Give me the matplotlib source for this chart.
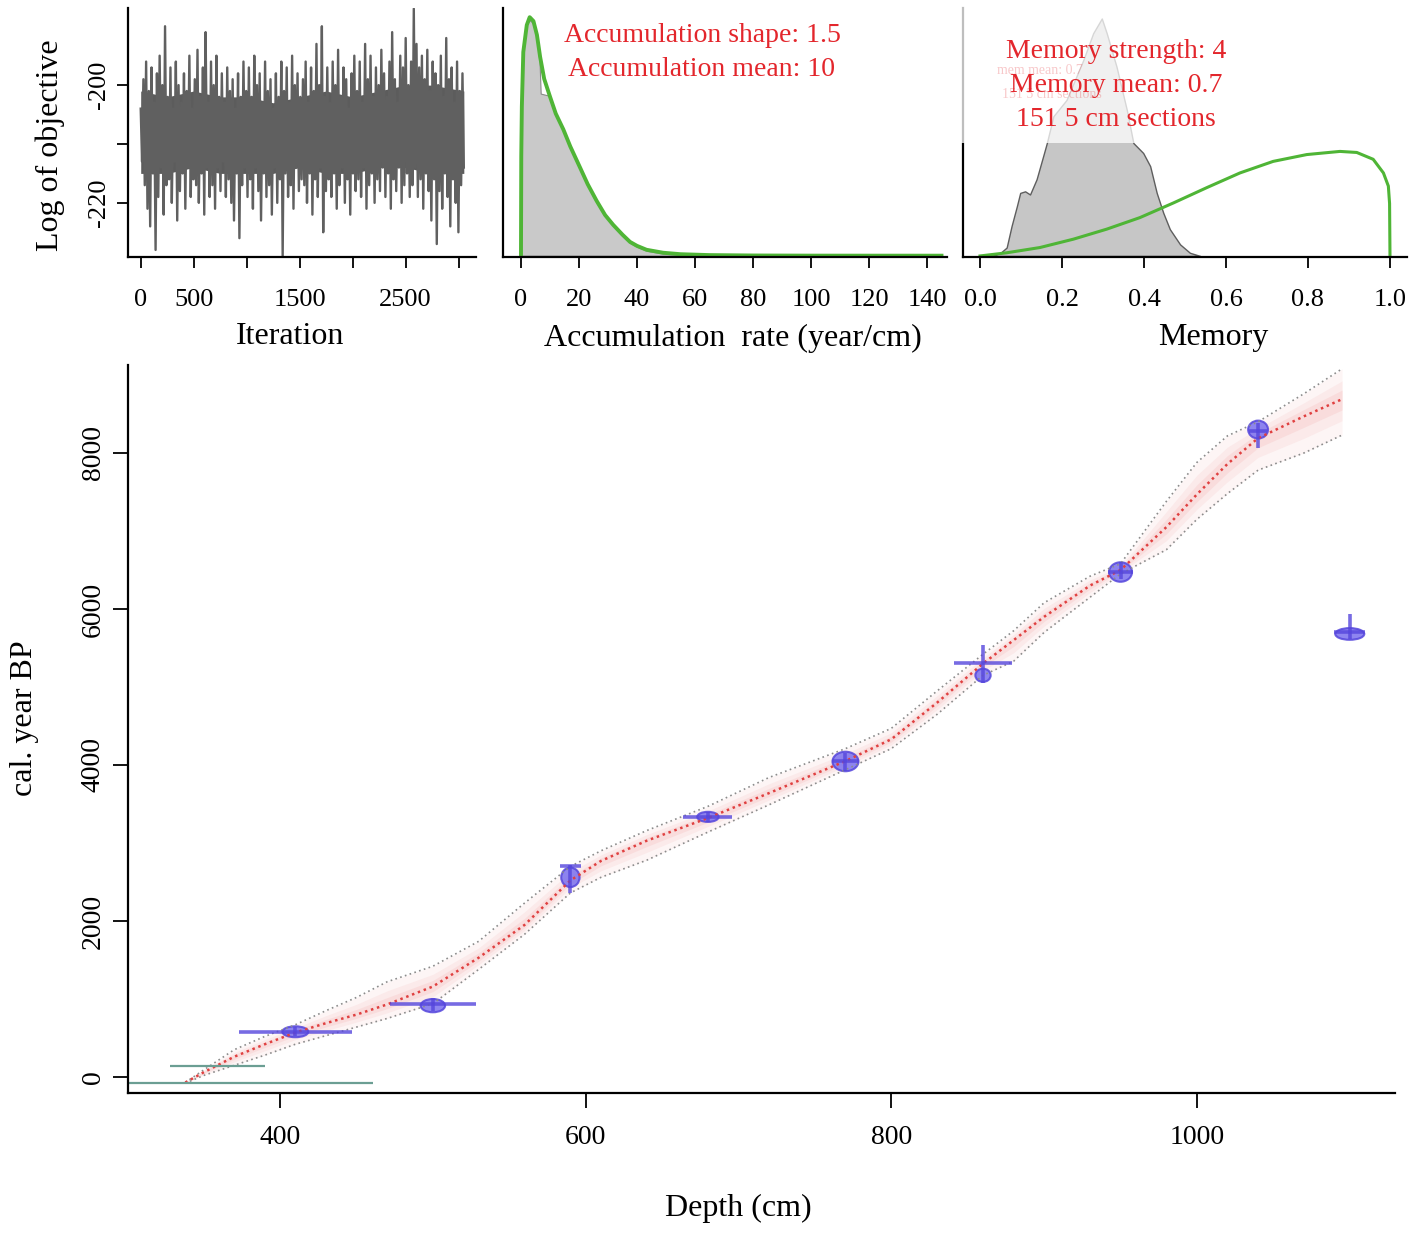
import numpy as np
import matplotlib
matplotlib.use('Agg')
import matplotlib.pyplot as plt
from matplotlib.patches import Ellipse, Rectangle

W, H = 1417, 1234

# --- MCMC trace (log of objective)
log_obj = [
    -204, -213, -199, -217, -196, -221, -201, -224, -197, -215, -203, -228, -198, -219, -195, -214, -200, -222, -190, -217,
    -202, -216, -197, -220, -204, -213, -196, -223, -200, -218, -203, -215, -198, -221, -201, -214, -195, -219, -204, -216,
    -199, -217, -194, -220, -202, -215, -197, -222, -191, -214, -203, -219, -196, -217, -200, -221, -195, -214, -202, -218,
    -198, -213, -203, -219, -197, -216, -201, -220, -199, -223, -204, -215, -198, -226, -202, -217, -196, -214, -201, -219,
    -197, -216, -202, -221, -195, -214, -200, -218, -198, -223, -203, -215, -196, -219, -201, -217, -199, -222, -204, -214,
    -198, -220, -202, -216, -196, -229, -201, -215, -197, -219, -203, -217, -195, -221, -200, -214, -198, -218, -202, -216,
    -199, -217, -196, -220, -203, -215, -197, -222, -201, -216, -193, -219, -200, -214, -190, -225, -202, -218, -197, -216,
    -203, -219, -196, -215, -200, -221, -194, -217, -202, -214, -197, -220, -199, -216, -204, -222, -198, -215, -195, -218,
    -201, -216, -196, -219, -203, -214, -193, -221, -199, -217, -195, -215, -202, -220, -197, -216, -200, -218, -194, -214,
    -198, -219, -202, -215, -196, -221, -191, -216, -199, -218, -203, -214, -195, -220, -197, -217, -192, -215, -200, -219,
    -196, -217, -187, -214, -193, -219, -197, -216, -195, -221, -199, -215, -194, -218, -201, -223, -196, -216, -198, -227,
    -200, -218, -195, -221, -202, -215, -192, -219, -199, -224, -197, -216, -203, -220, -196, -225, -201, -217, -198, -214,
]
n_iter = 3050
# dense core of the trace (upper / lower edge), every 250 iterations
core_iter = [0, 250, 500, 750, 1000, 1250, 1500, 1750, 2000, 2250, 2500, 2750, 3050]
core_hi = [-201, -202, -201, -202, -202, -203, -202, -201, -202, -201, -200, -200, -201]
core_lo = [-215, -215, -214, -215, -215, -215, -214, -215, -215, -214, -214, -215, -215]

# --- accumulation rate: posterior (grey) and prior (green)
acc_x = [0, 0.2, 0.8, 2.0, 3.1, 4.3, 5.4, 6.4, 6.8, 9.6, 12, 14.6, 17, 20.3, 23, 26.1, 29, 31.8, 35, 37.6, 40, 43.3, 49, 55, 61]
acc_post = [0, .0476, .0627, .0706, .0718, .0706, .0667, .0591, .0494, .0488, .0433, .0385, .0327, .0264, .0212,
            .0161, .0121, .0091, .0061, .0039, .0027, .0015, .0006, .0003, 0]
acc_prior_x = [0, 0.1, 0.3, 0.8, 2, 3, 4.3, 5.5, 6.6, 8, 10, 12, 14.6, 17, 20.3, 23, 26.1, 29, 31.8, 35, 37.6, 40,
               43.3, 49, 55, 65, 80, 100, 120, 145]
acc_prior = [0, .0303, .0455, .0621, .0703, .0727, .0715, .0673, .0606, .0539, .0485, .0433, .0385, .0333, .027,
             .0218, .0167, .0124, .0094, .0064, .0042, .003, .0018, .0009, .00045, .00018, .00006, .000015, .000006, 0]

# --- memory: posterior (grey) and prior (green)
mem_x = [0.03, 0.037, 0.05, 0.065, 0.077, 0.09, 0.098, 0.11, 0.122, 0.138, 0.154, 0.163, 0.179, 0.211, 0.252,
         0.276, 0.297, 0.309, 0.333, 0.358, 0.374, 0.398, 0.415, 0.431, 0.447, 0.463, 0.488, 0.512, 0.537]
mem_post = [0, 0.02, 0.06, 0.16, 0.57, 0.95, 1.2, 1.23, 1.17, 1.46, 1.9, 2.15, 2.66, 2.97, 3.73, 4.24, 4.52,
            4.24, 3.6, 2.78, 2.15, 1.96, 1.71, 1.2, 0.82, 0.51, 0.22, 0.06, 0]
mem_prior_x = [0, 0.065, 0.146, 0.228, 0.309, 0.39, 0.472, 0.553, 0.634, 0.715, 0.797, 0.878, 0.919, 0.959,
               0.984, 0.996, 0.999, 1.0]
mem_prior = [0, 0.06, 0.16, 0.32, 0.51, 0.73, 1.01, 1.3, 1.58, 1.8, 1.93, 1.99, 1.97, 1.84, 1.58, 1.33, 1.0, 0]

# --- age-depth model
depth = [338, 350, 370, 390, 410, 430, 450, 470, 500, 530, 560, 590, 610, 640, 680, 720, 770, 800, 830, 860,
         880, 900, 930, 950, 980, 1000, 1020, 1040, 1070, 1095]
age_mean = [-70, 60, 260, 420, 570, 690, 800, 930, 1160, 1530, 1950, 2520, 2770, 3030, 3320, 3640, 4050, 4330,
            4800, 5300, 5600, 5900, 6300, 6500, 7050, 7470, 7860, 8190, 8470, 8690]
age_upper = [-70, 90, 350, 520, 670, 850, 1020, 1220, 1420, 1740, 2230, 2700, 2900, 3160, 3470, 3840, 4210, 4470,
             4950, 5420, 5720, 6080, 6420, 6580, 7380, 7880, 8220, 8400, 8760, 9080]
age_lower = [-80, 20, 150, 280, 420, 530, 640, 750, 940, 1380, 1830, 2360, 2560, 2780, 3140, 3490, 3940, 4210,
             4650, 5150, 5330, 5700, 6150, 6450, 6760, 7150, 7480, 7780, 8000, 8230]

# dated levels
date_depth = [410, 500, 590, 680, 770, 860, 950, 1040, 1100]
date_age = [577, 930, 2700, 3335, 4045, 5310, 6474, 8280, 5700]
date_span = [37, 28, 7, 16, 9, 19, 8, 6, 10]
date_lo = [520, 850, 2360, 3270, 3920, 5050, 6380, 8070, 5620]
date_hi = [640, 1010, 2720, 3400, 4160, 5540, 6600, 8380, 5930]
blob_age = [580, 915, 2560, 3335, 4045, 5150, 6474, 8300, 5680]
blob_w = [17, 16, 12, 14, 17, 10, 15, 13, 19]
blob_h = [140, 170, 250, 130, 250, 170, 250, 230, 150]

# surface (modern) ranges
surf_age = [141, -77]
surf_from = [328, 300]
surf_to = [390, 461]

RED = '#e3262c'
GREEN = '#4fb536'
BLUE = '#5546dc'

plt.rcParams['font.family'] = ['Liberation Serif', 'DejaVu Serif']

fig = plt.figure(figsize=(W / 100, H / 100), dpi=100)


def px_axes(left, top, right, bottom):
    return fig.add_axes([left / W, 1 - bottom / H, (right - left) / W, (bottom - top) / H])


def r_axes(ax, lw=1.6):
    for s in ['top', 'right']:
        ax.spines[s].set_visible(False)
    for s in ['left', 'bottom']:
        ax.spines[s].set_linewidth(lw)
    ax.tick_params(direction='out', width=1.3, length=8)


def ftext(x, y, s, **kw):
    fig.text(x / W, 1 - y / H, s, ha='center', va='center', **kw)


# ---- top left: trace
ax1 = px_axes(128, 8, 476, 257)
r_axes(ax1)
ax1.fill_between(core_iter, core_lo, core_hi, color='#5c5c5c', lw=0)
ax1.plot(np.linspace(0, n_iter, len(log_obj)), log_obj, color='#606060', lw=1.7)
ax1.set_xlim(-120, 3165)
ax1.set_ylim(-229.2, -186.9)
ax1.set_xticks([0, 500, 1000, 1500, 2000, 2500, 3000])
ax1.set_xticklabels(['0', '500', '', '1500', '', '2500', ''])
ax1.set_yticks([-200, -210, -220])
ax1.set_yticklabels(['-200', '', '-220'], rotation=90, va='center')
ax1.tick_params(axis='x', labelsize=19, pad=15)
ax1.tick_params(axis='y', labelsize=19, pad=5)

# ---- top middle: accumulation rate
ax2 = px_axes(503, 8, 947, 257)
r_axes(ax2)
ax2.fill_between(acc_x, acc_post, color='#c9c9c9', edgecolor='#8a8a8a', lw=0.8)
ax2.plot(acc_prior_x, acc_prior, color=GREEN, lw=2.8)
ax2.set_xlim(-6.2, 146.9)
ax2.set_ylim(-0.0004, 0.0755)
ax2.set_xticks(range(0, 141, 20))
ax2.set_yticks([])
ax2.tick_params(axis='x', labelsize=19, pad=15)
ftext(702, 35, 'Accumulation shape: 1.5', color=RED, fontsize=20)
ftext(702, 69, 'Accumulation mean: 10', color=RED, fontsize=20)

# ---- top right: memory
ax3 = px_axes(963, 8, 1407, 257)
r_axes(ax3)
ax3.fill_between(mem_x, mem_post, color='#c6c6c6', edgecolor='#5e5e5e', lw=1.0)
ax3.plot(mem_prior_x, mem_prior, color=GREEN, lw=2.2)
# washed-out upper part of the panel
ax3.add_patch(Rectangle((-0.07, 2.15), 1.2, 3.0, facecolor='white', edgecolor='none',
                        alpha=0.75, zorder=3, clip_on=False))
ax3.set_xlim(-0.0415, 1.0415)
ax3.set_ylim(-0.02, 4.72)
ax3.set_xticks([0, 0.2, 0.4, 0.6, 0.8, 1.0])
ax3.set_xticklabels(['0.0', '0.2', '0.4', '0.6', '0.8', '1.0'])
ax3.set_yticks([])
ax3.tick_params(axis='x', labelsize=19, pad=15)
ftext(1040, 71, 'mem mean: 0.7', color=RED, fontsize=10, alpha=0.25, zorder=4)
ftext(1052, 94, '151 5 cm sections', color=RED, fontsize=10, alpha=0.25, zorder=4)
ftext(1116, 52, 'Memory strength: 4', color=RED, fontsize=20, zorder=5)
ftext(1116, 86, 'Memory mean: 0.7', color=RED, fontsize=20, zorder=5)
ftext(1116, 120, '151 5 cm sections', color=RED, fontsize=20, zorder=5)

ftext(50, 145, 'Log of objective', fontsize=23, rotation=90)
ftext(290, 337, 'Iteration', fontsize=23)
ftext(733, 338, 'Accumulation  rate (year/cm)', fontsize=23)
ftext(1213, 337, 'Memory', fontsize=23)

# ---- main: age-depth model
ax = px_axes(128, 365, 1395, 1093)
r_axes(ax)
d = np.array(depth)
m = np.array(age_mean)
up = np.array(age_upper)
lo = np.array(age_lower)
for f, a in [(1.0, 0.08), (0.6, 0.10), (0.3, 0.14)]:
    ax.fill_between(d, m + f * (lo - m), m + f * (up - m), color='#f08a8a', alpha=a, lw=0)
ax.plot(d, up, color='#8c8c8c', lw=1.2, ls=(0, (1, 2)))
ax.plot(d, lo, color='#8c8c8c', lw=1.2, ls=(0, (1, 2)))
ax.plot(d, m, color='#e04040', lw=1.8, ls=(0, (1, 1.5)))

for a, x0, x1 in zip(surf_age, surf_from, surf_to):
    ax.hlines(a, x0, x1, color='#6b9e93', lw=1.6)

for dd, a, sp, l, h, ba, bw, bh in zip(date_depth, date_age, date_span, date_lo, date_hi,
                                       blob_age, blob_w, blob_h):
    ax.hlines(a, dd - sp, dd + sp, color=BLUE, lw=2.6, alpha=0.8)
    ax.vlines(dd, l, h, color=BLUE, lw=2.6, alpha=0.8)
    ax.add_patch(Ellipse((dd, ba), bw, bh, facecolor='#7a70ee', edgecolor=BLUE, lw=1.5, alpha=0.85))

ax.set_xlim(300.5, 1129.6)
ax.set_ylim(-205, 9128)
ax.set_xticks([400, 600, 800, 1000])
ax.set_yticks([0, 2000, 4000, 6000, 8000])
for t in ax.get_yticklabels():
    t.set_rotation(90)
    t.set_va('center')
ax.tick_params(axis='x', labelsize=20, length=11, pad=12)
ax.tick_params(axis='y', labelsize=20, length=11, pad=5)

ftext(738, 1208, 'Depth (cm)', fontsize=23)
ftext(25, 718, 'cal. year BP', fontsize=23, rotation=90)

fig.savefig('out.png', dpi=100)
